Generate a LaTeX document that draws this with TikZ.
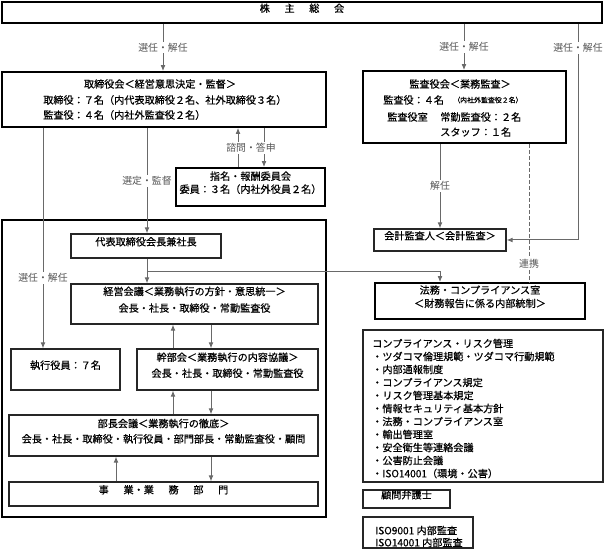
\documentclass[tikz,border=0pt]{standalone}
\usepackage{fontspec}
\newfontfamily\jp[FakeBold=0.6]{Noto Sans CJK JP}
\newfontfamily\jplab{Noto Sans CJK JP}
\usetikzlibrary{arrows.meta,fit}
\definecolor{linegray}{RGB}{105,105,105}
\definecolor{labgray}{RGB}{85,85,85}
\begin{document}
\begin{tikzpicture}[x=0.75pt,y=-0.75pt,
  font=\jp\fontsize{7.6}{10}\selectfont,
  thickbox/.style={draw=black,line width=1.3pt,inner sep=0pt},
  thinbox/.style={draw=black!85,line width=0.9pt,inner sep=0pt},
  conn/.style={draw=linegray,line width=0.75pt},
  arr/.style={conn,-{Latex[length=4.5pt,width=3.6pt]}},
  lab/.style={fill=white,text=labgray,inner sep=1pt,font=\jplab\fontsize{7.4}{9}\selectfont},
  txt/.style={inner sep=0pt}]
\useasboundingbox (0,0) rectangle (604,555);
% x positions of connectors
\foreach \xx in {43,116,147,163,173,211,238,264,440,464,529,578}
  \coordinate (c\xx) at (\xx,0);

% boxes
\node[thickbox, fit={(2,2)(602,23)}] (kabu) {株\hspace{11pt}主\hspace{11pt}総\hspace{11pt}会};

\node[thickbox, fit={(2,72)(326,127)}] (board) {};
\node[txt] (b1) at (160,84) {取締役会＜経営意思決定・監督＞};
\node[txt,anchor=west] (b2) at (43,100) {取締役：７名（内代表取締役２名、社外取締役３名）};
\node[txt,anchor=west] (b3) at (43,115) {監査役：４名（内社外監査役２名）};

\node[thickbox, fit={(363,71)(566,143)}] (audit) {};
\node[txt] (a1) at (460,84) {監査役会＜業務監査＞};
\node[txt,anchor=west] (a2) at (383,100) {監査役：４名};
\node[txt,anchor=west,font=\jp\fontsize{5.2}{6}\selectfont] (a2s) at (453,100) {（内社外監査役２名）};
\node[txt,anchor=west] (a3) at (387,117) {監査役室};
\node[txt,anchor=west] (a4) at (440,117) {常勤監査役：２名};
\node[txt,anchor=west] (a5) at (440,132) {スタッフ：１名};

\node[thickbox, fit={(176,168)(325,206)}, align=center, font=\jp\fontsize{7.6}{9.75}\selectfont] (nom) {指名・報酬委員会\\委員：３名（内社外役員２名）};

\node[thickbox, fit={(2,220)(326,517)}] (frame) {};
\node[thinbox, fit={(71,234)(221,258)}] (ceo) {代表取締役会長兼社長};
\node[thinbox, fit={(71,284)(318,324)}, align=center, font=\jp\fontsize{7.6}{12.5}\selectfont] (mgmt) {経営会議＜業務執行の方針・意思統一＞\\会長・社長・取締役・常勤監査役};
\node[thinbox, fit={(11,349)(120,390)}] (off) {執行役員：７名};
\node[thinbox, fit={(137,349)(318,390)}, align=center, font=\jp\fontsize{7.6}{12}\selectfont] (kanbu) {幹部会＜業務執行の内容協議＞\\会長・社長・取締役・常勤監査役};
\node[thinbox, fit={(9,415)(318,456)}, align=center, font=\jp\fontsize{7.6}{11.5}\selectfont] (bucho) {部長会議＜業務執行の徹底＞\\会長・社長・取締役・執行役員・部門部長・常勤監査役・顧問};
\node[thinbox, fit={(9,482)(318,506)}] (jigyo) {事\hspace{11pt}業・業\hspace{11pt}務\hspace{11pt}部\hspace{11pt}門};

\node[thinbox, fit={(374,229)(506,251)}] (kaikei) {会計監査人＜会計監査＞};
\node[thickbox, fit={(375,283)(585,319)}, align=center, font=\jp\fontsize{7.6}{10}\selectfont] (homu) {法務・コンプライアンス室\\＜財務報告に係る内部統制＞};

\node[thinbox, fit={(363,330)(603,482)}] (compl) {};
\node[txt,anchor=north west,align=left,font=\jp\fontsize{7.6}{9.75}\selectfont] (compltxt) at (372,338.5) {コンプライアンス・リスク管理\\
・ツダコマ倫理規範・ツダコマ行動規範\\
・内部通報制度\\
・コンプライアンス規定\\
・リスク管理基本規定\\
・情報セキュリティ基本方針\\
・法務・コンプライアンス室\\
・輸出管理室\\
・安全衛生等連絡会議\\
・公害防止会議\\
・ISO14001（環境・公害）};

\node[thinbox, fit={(363,490)(450,508)}] (komon) {顧問弁護士};
\node[thinbox, fit={(363,517)(473,548)}] (iso) {};
\node[txt,anchor=west,align=left,font=\jp\fontsize{7.6}{9}\selectfont] (isotxt) at (375,536.5) {ISO9001 内部監査\\ISO14001 内部監査};

% connectors
\draw[arr] (kabu.south -| c163) -- node[lab] (l1) {選任・解任} (board.north -| c163);
\draw[arr] (kabu.south -| c464) -- node[lab] (l2) {選任・解任} (audit.north -| c464);
\draw[arr] (kabu.south -| c578) -- (c578 |- kaikei.east) -- (kaikei.east);
\node[lab] (l3) at (578,48) {選任・解任};

\draw[arr] (board.south -| c43) -- node[lab,pos=0.68] (l4) {選任・解任} (off.north -| c43);
\draw[arr] (board.south -| c147) -- node[lab,pos=0.5] (l5) {選定・監督} (ceo.north -| c147);
\draw[arr] (nom.north -| c238) -- (board.south -| c238);
\draw[arr] (board.south -| c264) -- (nom.north -| c264);
\node[lab] (l6) at (251,148) {諮問・答申};

\draw[arr] (audit.south -| c440) -- node[lab] (l7) {解任} (kaikei.north -| c440);
\draw[conn,dash pattern=on 3pt off 1.5pt] (audit.south -| c529) -- node[lab,pos=0.87] (l8) {連携} (homu.north -| c529);

\draw[arr] (ceo.south -| c147) -- (mgmt.north -| c147);
\coordinate (br) at (147,272);
\draw[arr] (br) -- (br -| c440) -- (homu.north -| c440);

\draw[arr] (kanbu.north -| c173) -- (mgmt.south -| c173);
\draw[arr] (mgmt.south -| c211) -- (kanbu.north -| c211);
\draw[arr] (bucho.north -| c173) -- (kanbu.south -| c173);
\draw[arr] (kanbu.south -| c211) -- (bucho.north -| c211);
\draw[arr] (jigyo.north -| c116) -- (bucho.south -| c116);
\draw[arr] (bucho.south -| c211) -- (jigyo.north -| c211);
\end{tikzpicture}
\end{document}
